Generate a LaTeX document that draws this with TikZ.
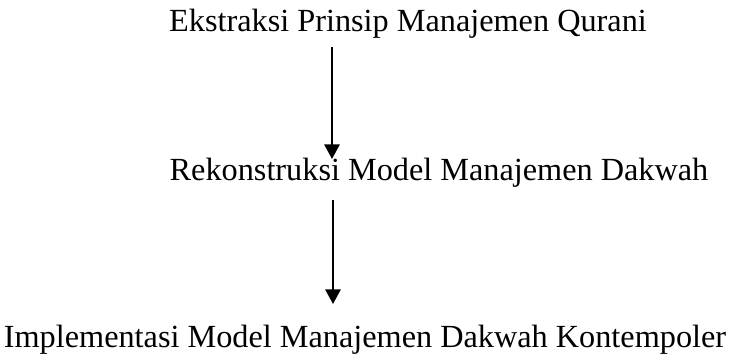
\documentclass[tikz,border=0pt]{standalone}
\usepackage{fontspec}
\setmainfont{Liberation Serif}
\usetikzlibrary{arrows.meta}
\begin{document}
\begin{tikzpicture}[x=0.75pt,y=-0.75pt,
  lbl/.style={anchor=base,inner sep=0pt,font=\fontsize{24.2}{28}\selectfont},
  arr/.style={line width=1.5pt,-{Triangle[width=11.5pt,length=11pt]}}]
\useasboundingbox (0,0) rectangle (730,359);
\node[lbl] (top) at (408,32) {Ekstraksi Prinsip Manajemen Qurani};
\node[lbl] (mid) at (439,181) {Rekonstruksi Model Manajemen Dakwah};
\node[lbl] (bot) at (365,347) {Implementasi Model Manajemen Dakwah Kontempoler};
\coordinate (s1) at (332,47);
\coordinate (e1) at (332,159);
\coordinate (s2) at (333,200);
\coordinate (e2) at (333,304);
\draw[arr] (s1) -- (e1);
\draw[arr] (s2) -- (e2);
\end{tikzpicture}
\end{document}
